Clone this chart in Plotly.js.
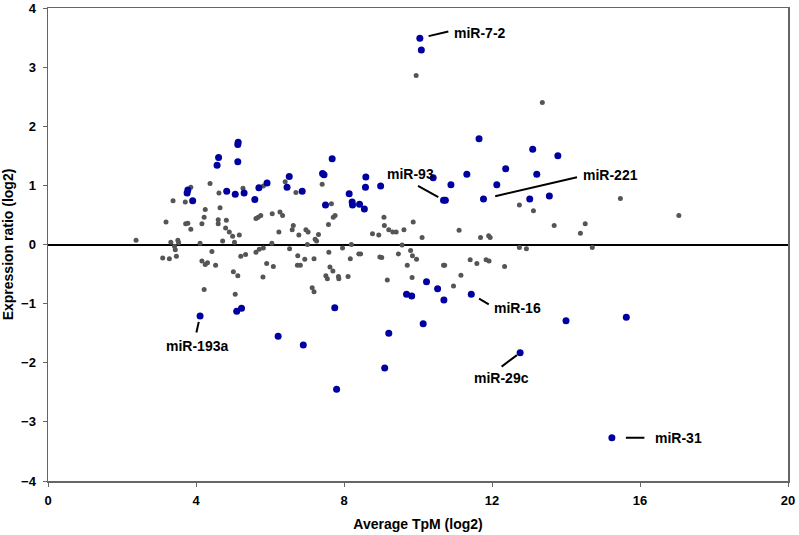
<!DOCTYPE html>
<html>
<head>
<meta charset="utf-8">
<script src="https://cdn.plot.ly/plotly-3.0.1.min.js"></script>
<style>
  html, body { margin: 0; padding: 0; background: #fff; }
  #chart { width: 799px; height: 535px; }
</style>
</head>
<body>
<div id="chart"></div>
<script>
// miRNAs without significant change (grey)
const grey_x = [3.86, 4.38, 4.62, 5.27, 5.82, 6.41, 6.70, 3.38, 3.71, 4.25, 4.65, 3.19, 3.72, 3.78,
  4.22, 4.16, 4.60, 4.60, 4.82, 3.86, 4.80, 4.90, 4.99, 5.17, 4.72, 5.04, 5.62, 5.68, 5.75, 6.06,
  6.27, 6.34, 6.24, 6.63, 6.60, 6.78, 2.38, 3.32, 3.51, 3.53, 4.11, 3.42, 3.44, 3.10, 3.28, 3.47,
  4.43, 4.16, 4.25, 4.31, 4.53, 5.01, 5.13, 5.21, 5.34, 5.62, 5.71, 5.82, 6.05, 6.53, 5.91, 6.09,
  5.81, 6.75, 6.74, 4.22, 5.06, 7.19, 7.41, 7.66, 7.71, 7.76, 7.58, 6.97, 7.03, 7.31, 7.22, 7.26,
  7.01, 8.20, 7.96, 7.59, 8.40, 8.45, 6.94, 7.19, 8.17, 6.82, 7.62, 7.70, 7.51, 7.55, 7.85, 7.86,
  8.11, 7.14, 8.77, 8.94, 9.08, 9.09, 9.21, 9.32, 9.41, 9.62, 9.87, 10.11, 9.57, 8.97, 9.02, 9.17,
  9.47, 9.80, 9.85, 9.96, 9.71, 9.84, 10.69, 10.72, 11.11, 11.16, 10.96, 11.41, 11.59, 11.84, 11.69,
  11.91, 11.95, 12.74, 13.12, 15.47, 17.05, 13.68, 14.39, 14.52, 12.74, 12.93, 14.71, 11.92, 12.34,
  13.36, 9.95];
const grey_y = [0.97, 1.03, 0.87, 0.95, 0.99, 1.06, 0.88, 0.74, 0.72, 0.59, 0.62, 0.38, 0.35, 0.36,
  0.46, 0.35, 0.42, 0.35, 0.41, 0.26, 0.28, 0.21, 0.14, 0.16, 0.06, 0.04, 0.44, 0.46, 0.49, 0.52,
  0.55, 0.49, 0.21, 0.32, 0.25, 0.16, 0.07, 0.04, 0.07, 0.03, 0.02, -0.03, -0.09, -0.23, -0.24, -0.20,
  -0.12, -0.28, -0.34, -0.31, -0.35, -0.46, -0.53, -0.20, -0.17, -0.13, -0.08, -0.06, 0.02, -0.07, -0.32, -0.37,
  -0.55, -0.19, -0.35, -0.76, -0.84, -0.80, 1.02, 0.69, 0.46, 0.49, 0.34, 0.25, 0.21, 0.17, 0.09, 0.06,
  0.00, 0.00, -0.06, -0.13, -0.16, -0.16, -0.25, -0.24, -0.24, -0.35, -0.38, -0.45, -0.53, -0.58, -0.54, -0.58,
  -0.54, -0.73, 0.18, 0.16, 0.46, 0.32, 0.25, 0.21, 0.21, 0.25, 0.38, 0.12, -0.01, -0.21, -0.22, -0.60,
  -0.16, -0.10, -0.19, -0.25, -0.35, -0.56, -0.35, -0.35, 0.24, -0.52, -0.70, -0.26, -0.32, -0.26, 0.12,
  0.15, 0.12, 0.67, 0.57, 0.78, 0.49, 0.32, 0.19, 0.35, -0.05, -0.07, -0.05, -0.28, -0.37,
  2.40, 2.86];

// differentially expressed miRNAs (blue)
const blue_x = [4.57, 4.61, 5.14, 5.13, 5.13, 3.78, 3.76, 3.91, 4.83, 5.06, 5.30, 5.59, 5.70, 5.92,
  6.52, 6.46, 5.23, 5.10, 7.42, 7.46, 8.59, 8.58, 8.99, 6.87, 8.14, 8.22, 8.23, 8.42, 8.55, 7.50,
  10.69, 10.74, 10.89, 11.32, 11.77, 10.41, 7.68, 11.65, 10.23, 10.53, 10.70, 9.69, 9.83, 11.44,
  7.75, 10.14, 9.21, 9.10, 12.76, 14.00, 15.63, 4.11, 6.22, 6.90, 7.80, 12.37, 13.21, 12.13, 13.02,
  13.55, 13.10, 13.78, 10.05, 10.09, 15.24];
const blue_y = [1.34, 1.47, 1.73, 1.69, 1.40, 0.92, 0.87, 0.74, 0.90, 0.85, 0.87, 0.76, 0.96, 1.04,
  1.15, 0.97, -1.08, -1.13, 1.20, 1.18, 1.14, 0.97, 0.99, 0.90, 0.86, 0.72, 0.67, 0.68, 0.60, 0.67,
  0.75, 0.75, 1.01, 1.19, 0.77, 1.13, 1.45, 1.79, -0.63, -0.75, -0.94, -0.84, -0.87, -0.84,
  -1.07, -1.34, -1.50, -2.09, -1.83, -1.29, -1.23, -1.21, -1.55, -1.70, -2.45, 1.28, 1.19, 1.01, 0.77,
  0.82, 1.61, 1.50, 3.49, 3.29, -3.27];

// labelled miRNAs
const label_names = ["miR-7-2", "miR-93", "miR-221", "miR-16", "miR-29c", "miR-193a", "miR-31"];
const label_x = [10.05, 10.69, 11.77, 11.44, 12.76, 4.11, 15.24];
const label_y = [3.49, 0.75, 0.77, -0.84, -1.83, -1.21, -3.27];

const FONT = "Liberation Sans, Arial, sans-serif";

// pixel offsets: leader line tail, gap at point, text shift
const label_style = {
  "miR-7-2":  {ax: 30,  ay: -7,  gap: 9,  tx: 32,  ty: 5,   anchor: "left"},
  "miR-93":   {ax: -27, ay: -15, gap: 6,  tx: -33, ty: 26,  anchor: "center"},
  "miR-221":  {ax: 95,  ay: -22, gap: 12, tx: 98,  ty: 24,  anchor: "left"},
  "miR-16":   {ax: 19,  ay: 11,  gap: 9,  tx: 21,  ty: -14, anchor: "left"},
  "miR-29c":  {ax: -20, ay: 15,  gap: 4,  tx: -19, ty: -25, anchor: "center"},
  "miR-193a": {ax: -4,  ay: 18,  gap: 6,  tx: -3,  ty: -30, anchor: "center"},
  "miR-31":   {ax: 34,  ay: 0,   gap: 14, tx: 41,  ty: 0,   anchor: "left"},
};

const annotations = [];
label_names.forEach((name, i) => {
  const s = label_style[name];
  annotations.push({
    x: label_x[i], y: label_y[i], xref: "x", yref: "y",
    text: "", showarrow: true, arrowhead: 0, arrowwidth: 2, arrowcolor: "#000",
    ax: s.ax, ay: s.ay, standoff: s.gap,
  });
  annotations.push({
    x: label_x[i], y: label_y[i], xref: "x", yref: "y",
    text: name, showarrow: false,
    xanchor: s.anchor, yanchor: "middle",
    xshift: s.tx, yshift: s.ty,
    font: {family: FONT, size: 14, color: "#000", weight: "bold"},
  });
});

const grey_trace = {
  x: grey_x, y: grey_y,
  mode: "markers", type: "scatter",
  marker: {color: "#555555", size: 5},
  hoverinfo: "skip",
};

const blue_trace = {
  x: blue_x, y: blue_y,
  mode: "markers", type: "scatter",
  marker: {color: "#0000a0", size: 7},
  hoverinfo: "skip",
};

const layout = {
  width: 799, height: 535,
  margin: {l: 48, r: 11, t: 8, b: 54},
  paper_bgcolor: "#fff", plot_bgcolor: "#fff",
  showlegend: false,
  font: {family: FONT, size: 13, color: "#000"},
  xaxis: {
    range: [0, 20], tickvals: [0, 4, 8, 12, 16, 20],
    showgrid: false, zeroline: false,
    showline: true, linecolor: "#666", linewidth: 1.5, mirror: true,
    ticks: "outside", ticklen: 4, tickcolor: "#666",
    ticklabelstandoff: 3, ticklabeloverflow: "allow",
    tickfont: {family: FONT, size: 13, weight: "bold"},
    title: {text: "Average TpM (log2)", standoff: 12,
      font: {family: FONT, size: 14, weight: "bold"}},
  },
  yaxis: {
    range: [-4, 4], dtick: 1,
    showgrid: false,
    zeroline: true, zerolinecolor: "#000", zerolinewidth: 2,
    showline: true, linecolor: "#666", linewidth: 1.5, mirror: true,
    ticks: "outside", ticklen: 4, tickcolor: "#666",
    ticklabelstandoff: 4, ticklabeloverflow: "allow",
    tickfont: {family: FONT, size: 13, weight: "bold"},
    title: {text: "Expression ratio (log2)", standoff: 6,
      font: {family: FONT, size: 14, weight: "bold"}},
  },
  annotations: annotations,
};

Plotly.newPlot("chart", [grey_trace, blue_trace], layout, {displayModeBar: false, staticPlot: true});
</script>
</body>
</html>
